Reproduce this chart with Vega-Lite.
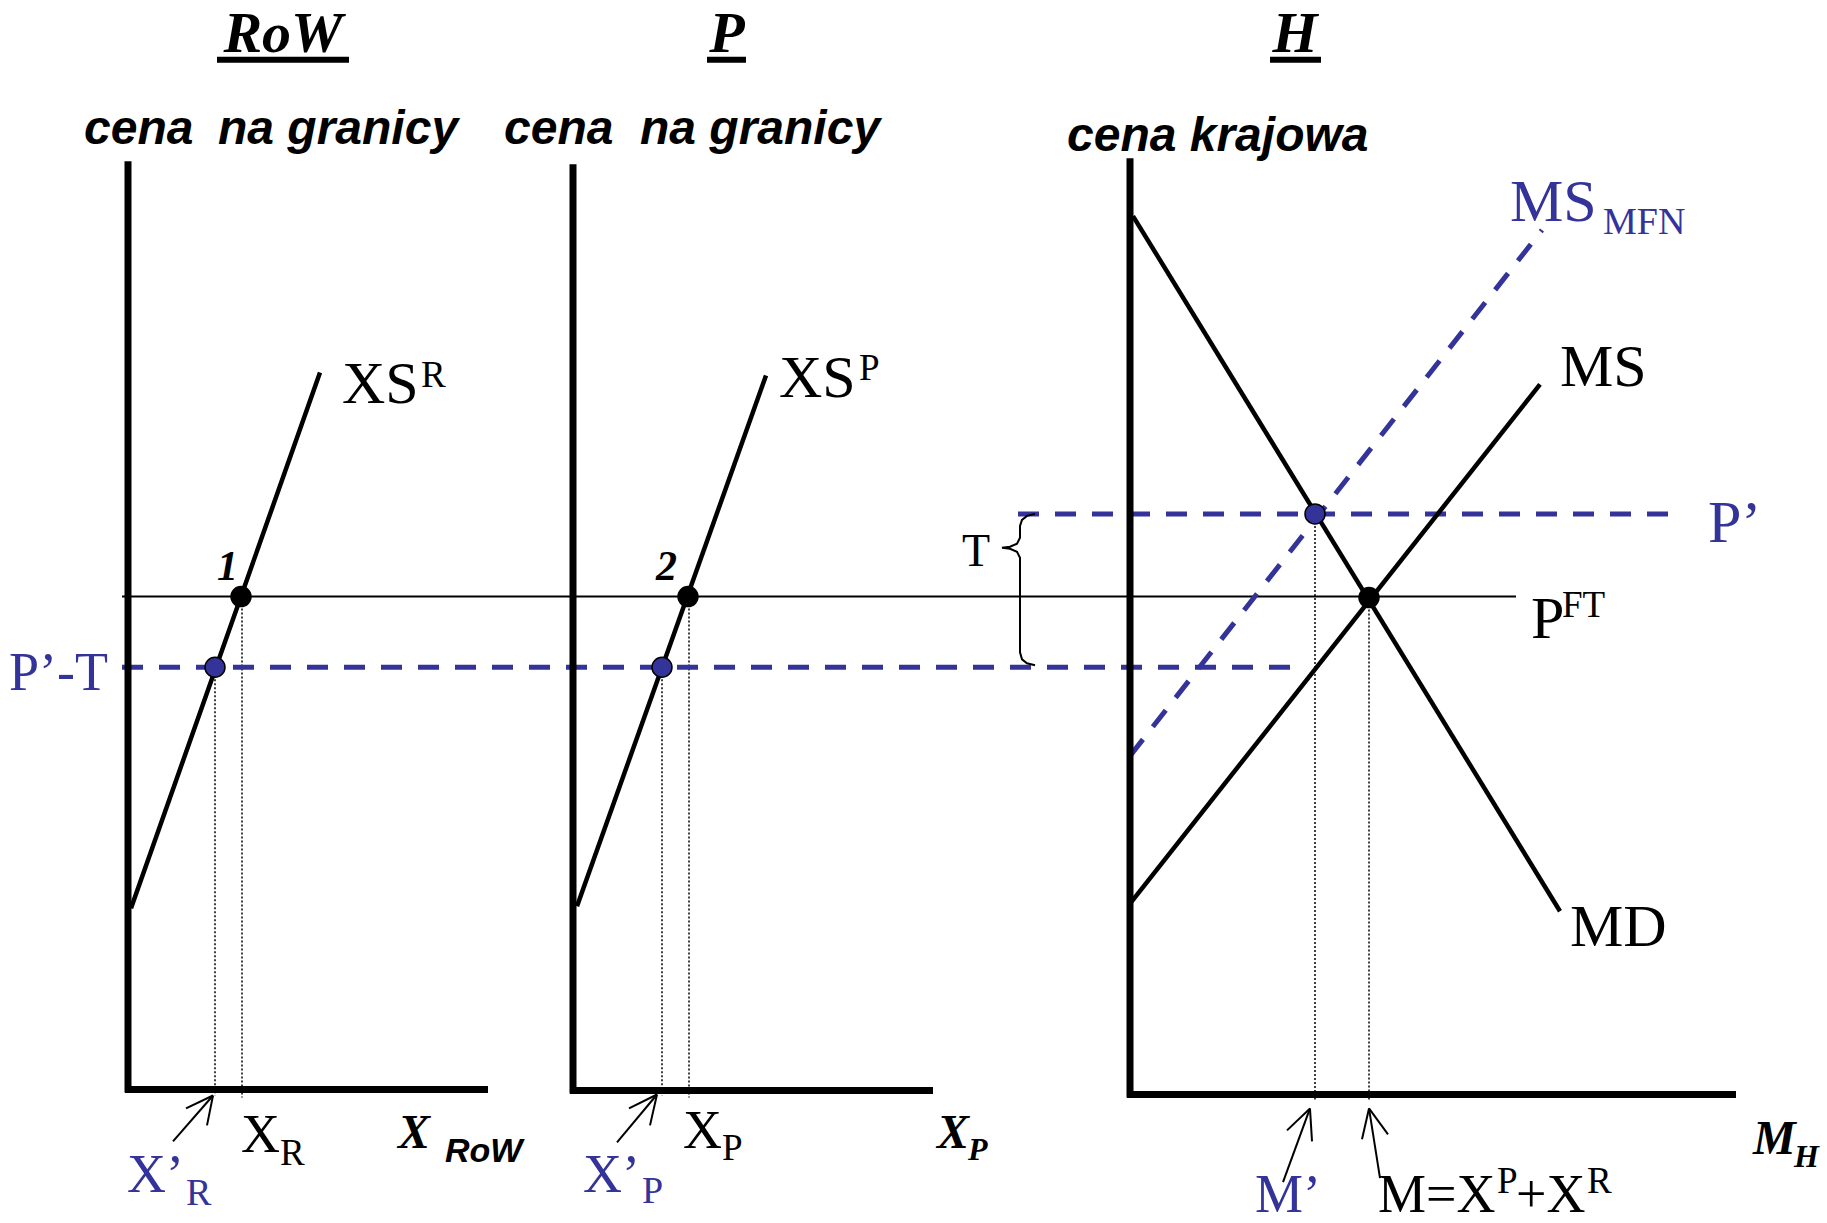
{
  "$schema": "https://vega.github.io/schema/vega-lite/v6.json",
  "width": 1827,
  "height": 1223,
  "padding": 0,
  "autosize": {"type": "fit", "contains": "padding"},
  "background": "white",
  "config": {"view": {"stroke": null}},
  "datasets": {
    "axes": [
      {"x": 128, "y": 162, "xe": 128, "ye": 1097},
      {"x": 125, "y": 1094, "xe": 488, "ye": 1094},
      {"x": 573, "y": 165, "xe": 573, "ye": 1098},
      {"x": 570, "y": 1095, "xe": 933, "ye": 1095},
      {"x": 1130, "y": 159, "xe": 1130, "ye": 1102},
      {"x": 1127, "y": 1099, "xe": 1736, "ye": 1099}
    ],
    "underline": [
      {"x": 217, "y": 60, "xe": 349, "ye": 60},
      {"x": 707, "y": 60, "xe": 746, "ye": 60},
      {"x": 1270, "y": 60, "xe": 1321, "ye": 60}
    ],
    "curves": [
      {"name": "XS_R", "x": 131, "y": 912, "xe": 320, "ye": 374},
      {"name": "XS_P", "x": 577, "y": 910, "xe": 766, "ye": 377},
      {"name": "MD", "x": 1133, "y": 217, "xe": 1560, "ye": 915},
      {"name": "MS", "x": 1131, "y": 906, "xe": 1540, "ye": 386}
    ],
    "thin": [
      {"name": "P_FT", "x": 122, "y": 599, "xe": 1516, "ye": 599}
    ],
    "dashed": [
      {"name": "P'-T", "x": 122, "y": 670, "xe": 1300, "ye": 670},
      {"name": "P'", "x": 1018, "y": 516, "xe": 1673, "ye": 516},
      {"name": "MS_MFN", "x": 1130, "y": 759, "xe": 1542, "ye": 231}
    ],
    "dotted": [
      {"x": 215, "y": 670, "xe": 215, "ye": 1100},
      {"x": 242, "y": 599, "xe": 242, "ye": 1102},
      {"x": 662, "y": 670, "xe": 662, "ye": 1100},
      {"x": 689, "y": 599, "xe": 689, "ye": 1102},
      {"x": 1315, "y": 516, "xe": 1315, "ye": 1104},
      {"x": 1369, "y": 600, "xe": 1369, "ye": 1106}
    ],
    "arrows": [
      {"x": 173, "y": 1146, "xe": 213, "ye": 1100},
      {"x": 213, "y": 1100, "xe": 186, "ye": 1113},
      {"x": 213, "y": 1100, "xe": 207, "ye": 1130},
      {"x": 617, "y": 1147, "xe": 657, "ye": 1099},
      {"x": 657, "y": 1099, "xe": 629, "ye": 1113},
      {"x": 657, "y": 1099, "xe": 650, "ye": 1130},
      {"x": 1283, "y": 1187, "xe": 1310, "ye": 1113},
      {"x": 1310, "y": 1113, "xe": 1287, "ye": 1135},
      {"x": 1310, "y": 1113, "xe": 1312, "ye": 1146},
      {"x": 1380, "y": 1183, "xe": 1369, "ye": 1113},
      {"x": 1369, "y": 1113, "xe": 1362, "ye": 1144},
      {"x": 1369, "y": 1113, "xe": 1388, "ye": 1139}
    ],
    "brace": [
      {"i": 0, "x": 1035, "y": 516},
      {"i": 1, "x": 1027, "y": 518},
      {"i": 2, "x": 1022, "y": 522},
      {"i": 3, "x": 1020, "y": 528},
      {"i": 4, "x": 1020, "y": 540},
      {"i": 5, "x": 1017, "y": 546},
      {"i": 6, "x": 1010, "y": 549},
      {"i": 7, "x": 1002, "y": 550},
      {"i": 8, "x": 1010, "y": 551},
      {"i": 9, "x": 1017, "y": 554},
      {"i": 10, "x": 1020, "y": 560},
      {"i": 11, "x": 1020, "y": 655},
      {"i": 12, "x": 1022, "y": 662},
      {"i": 13, "x": 1027, "y": 666},
      {"i": 14, "x": 1035, "y": 668}
    ],
    "dots_black": [
      {"name": "1", "x": 241, "y": 599},
      {"name": "2", "x": 688, "y": 599},
      {"name": "FT", "x": 1369, "y": 600}
    ],
    "dots_blue": [
      {"x": 215, "y": 670},
      {"x": 662, "y": 670},
      {"x": 1315, "y": 516}
    ],
    "t_title": [
      {"x": 283, "y": 52, "t": "RoW"},
      {"x": 727, "y": 52, "t": "P"},
      {"x": 1295, "y": 52, "t": "H"}
    ],
    "t_sans": [
      {"x": 84, "y": 145, "t": "cena"},
      {"x": 218, "y": 145, "t": "na granicy"},
      {"x": 504, "y": 145, "t": "cena"},
      {"x": 640, "y": 145, "t": "na granicy"},
      {"x": 1067, "y": 152, "t": "cena krajowa"}
    ],
    "t_big": [
      {"x": 342, "y": 405, "t": "XS"},
      {"x": 779, "y": 399, "t": "XS"},
      {"x": 1560, "y": 388, "t": "MS"},
      {"x": 1570, "y": 950, "t": "MD"},
      {"x": 1531, "y": 641, "t": "P"}
    ],
    "t_med": [
      {"x": 241, "y": 1157, "t": "X"},
      {"x": 683, "y": 1153, "t": "X"},
      {"x": 1378, "y": 1217, "t": "M=X"},
      {"x": 1516, "y": 1217, "t": "+X"}
    ],
    "t_T": [
      {"x": 962, "y": 568, "t": "T"}
    ],
    "t_sup": [
      {"x": 421, "y": 389, "t": "R"},
      {"x": 859, "y": 382, "t": "P"},
      {"x": 1562, "y": 620, "t": "FT"},
      {"x": 280, "y": 1170, "t": "R"},
      {"x": 722, "y": 1165, "t": "P"},
      {"x": 1497, "y": 1198, "t": "P"},
      {"x": 1587, "y": 1198, "t": "R"}
    ],
    "tb_big": [
      {"x": 1510, "y": 222, "t": "MS"},
      {"x": 1708, "y": 544, "t": "P’"}
    ],
    "tb_med": [
      {"x": 127, "y": 1197, "t": "X’"},
      {"x": 583, "y": 1197, "t": "X’"},
      {"x": 1255, "y": 1217, "t": "M’"},
      {"x": 9, "y": 693, "t": "P’-T"}
    ],
    "tb_sub": [
      {"x": 1603, "y": 235, "t": "MFN"},
      {"x": 186, "y": 1210, "t": "R"},
      {"x": 642, "y": 1208, "t": "P"}
    ],
    "tbi_num": [
      {"x": 217, "y": 582, "t": "1"},
      {"x": 656, "y": 582, "t": "2"}
    ],
    "tbi_axis": [
      {"x": 398, "y": 1153, "t": "X"},
      {"x": 937, "y": 1153, "t": "X"},
      {"x": 1753, "y": 1159, "t": "M"}
    ],
    "tbi_sub": [
      {"x": 968, "y": 1165, "t": "P"},
      {"x": 1794, "y": 1172, "t": "H"}
    ],
    "t_sans_sub": [
      {"x": 445, "y": 1167, "t": "RoW"}
    ]
  },
  "encoding": {
    "x": {"field": "x", "type": "quantitative", "scale": {"domain": [0, 1827], "nice": false, "zero": false}, "axis": null},
    "y": {"field": "y", "type": "quantitative", "scale": {"domain": [0, 1223], "nice": false, "zero": false, "reverse": true}, "axis": null}
  },
  "layer": [
    {
      "data": {"name": "dotted"},
      "mark": {"type": "rule", "color": "black", "strokeWidth": 1.5, "strokeDash": [2, 2]},
      "encoding": {"x2": {"field": "xe"}, "y2": {"field": "ye"}}
    },
    {
      "data": {"name": "thin"},
      "mark": {"type": "rule", "color": "black", "strokeWidth": 2},
      "encoding": {"x2": {"field": "xe"}, "y2": {"field": "ye"}}
    },
    {
      "data": {"name": "dashed"},
      "mark": {"type": "rule", "color": "#333399", "strokeWidth": 5, "strokeDash": [21, 16]},
      "encoding": {"x2": {"field": "xe"}, "y2": {"field": "ye"}}
    },
    {
      "data": {"name": "axes"},
      "mark": {"type": "rule", "color": "black", "strokeWidth": 7},
      "encoding": {"x2": {"field": "xe"}, "y2": {"field": "ye"}}
    },
    {
      "data": {"name": "underline"},
      "mark": {"type": "rule", "color": "black", "strokeWidth": 6},
      "encoding": {"x2": {"field": "xe"}, "y2": {"field": "ye"}}
    },
    {
      "data": {"name": "curves"},
      "mark": {"type": "rule", "color": "black", "strokeWidth": 4.5},
      "encoding": {"x2": {"field": "xe"}, "y2": {"field": "ye"}}
    },
    {
      "data": {"name": "arrows"},
      "mark": {"type": "rule", "color": "black", "strokeWidth": 2},
      "encoding": {"x2": {"field": "xe"}, "y2": {"field": "ye"}}
    },
    {
      "data": {"name": "brace"},
      "mark": {"type": "line", "color": "black", "strokeWidth": 2},
      "encoding": {"order": {"field": "i", "type": "quantitative"}}
    },
    {
      "data": {"name": "dots_black"},
      "mark": {"type": "circle", "color": "black", "opacity": 1, "size": 460}
    },
    {
      "data": {"name": "dots_blue"},
      "mark": {"type": "point", "shape": "circle", "filled": true, "fill": "#333399", "stroke": "black", "strokeWidth": 1.5, "opacity": 1, "size": 400}
    },
    {
      "data": {"name": "t_title"},
      "mark": {"type": "text", "font": "Liberation Serif", "fontSize": 58, "fontStyle": "italic", "fontWeight": "bold", "align": "center", "baseline": "alphabetic", "color": "black"},
      "encoding": {"text": {"field": "t"}}
    },
    {
      "data": {"name": "t_sans"},
      "mark": {"type": "text", "font": "Liberation Sans", "fontSize": 48, "fontStyle": "italic", "fontWeight": "bold", "align": "left", "baseline": "alphabetic", "color": "black"},
      "encoding": {"text": {"field": "t"}}
    },
    {
      "data": {"name": "t_big"},
      "mark": {"type": "text", "font": "Liberation Serif", "fontSize": 60, "align": "left", "baseline": "alphabetic", "color": "black"},
      "encoding": {"text": {"field": "t"}}
    },
    {
      "data": {"name": "t_med"},
      "mark": {"type": "text", "font": "Liberation Serif", "fontSize": 54, "align": "left", "baseline": "alphabetic", "color": "black"},
      "encoding": {"text": {"field": "t"}}
    },
    {
      "data": {"name": "t_T"},
      "mark": {"type": "text", "font": "Liberation Serif", "fontSize": 46, "align": "left", "baseline": "alphabetic", "color": "black"},
      "encoding": {"text": {"field": "t"}}
    },
    {
      "data": {"name": "t_sup"},
      "mark": {"type": "text", "font": "Liberation Serif", "fontSize": 37, "align": "left", "baseline": "alphabetic", "color": "black"},
      "encoding": {"text": {"field": "t"}}
    },
    {
      "data": {"name": "tb_big"},
      "mark": {"type": "text", "font": "Liberation Serif", "fontSize": 60, "align": "left", "baseline": "alphabetic", "color": "#333399"},
      "encoding": {"text": {"field": "t"}}
    },
    {
      "data": {"name": "tb_med"},
      "mark": {"type": "text", "font": "Liberation Serif", "fontSize": 54, "align": "left", "baseline": "alphabetic", "color": "#333399"},
      "encoding": {"text": {"field": "t"}}
    },
    {
      "data": {"name": "tb_sub"},
      "mark": {"type": "text", "font": "Liberation Serif", "fontSize": 38, "align": "left", "baseline": "alphabetic", "color": "#333399"},
      "encoding": {"text": {"field": "t"}}
    },
    {
      "data": {"name": "tbi_num"},
      "mark": {"type": "text", "font": "Liberation Serif", "fontSize": 42, "fontStyle": "italic", "fontWeight": "bold", "align": "left", "baseline": "alphabetic", "color": "black"},
      "encoding": {"text": {"field": "t"}}
    },
    {
      "data": {"name": "tbi_axis"},
      "mark": {"type": "text", "font": "Liberation Serif", "fontSize": 48, "fontStyle": "italic", "fontWeight": "bold", "align": "left", "baseline": "alphabetic", "color": "black"},
      "encoding": {"text": {"field": "t"}}
    },
    {
      "data": {"name": "tbi_sub"},
      "mark": {"type": "text", "font": "Liberation Serif", "fontSize": 32, "fontStyle": "italic", "fontWeight": "bold", "align": "left", "baseline": "alphabetic", "color": "black"},
      "encoding": {"text": {"field": "t"}}
    },
    {
      "data": {"name": "t_sans_sub"},
      "mark": {"type": "text", "font": "Liberation Sans", "fontSize": 34, "fontStyle": "italic", "fontWeight": "bold", "align": "left", "baseline": "alphabetic", "color": "black"},
      "encoding": {"text": {"field": "t"}}
    }
  ]
}
